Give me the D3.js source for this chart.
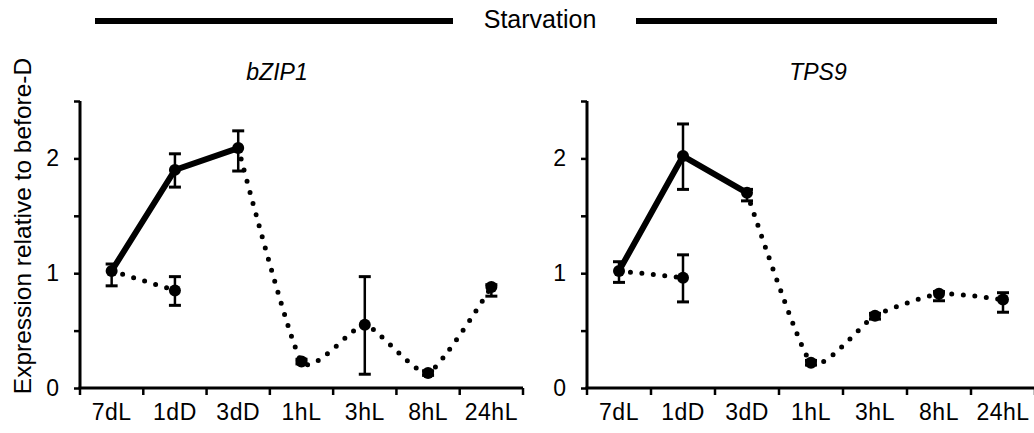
<!DOCTYPE html>
<html>
<head>
<meta charset="utf-8">
<script src="https://cdn.jsdelivr.net/npm/d3@7"></script>
<style>
  html, body { margin: 0; padding: 0; background: #fff; }
  svg { display: block; font-family: "Liberation Sans", Arial, sans-serif; }
</style>
</head>
<body>
<svg id="chart" width="1034" height="433"></svg>
<script>
// Time points
const categories = ["7dL", "1dD", "3dD", "1hL", "3hL", "8hL", "24hL"];
const yTicks = [0, 0.5, 1, 1.5, 2, 2.5];
const yTickLabels = ["0", "", "1", "", "2", ""];

// bZIP1: starvation (solid), light control (dotted), recovery in light (dotted, smoothed)
const bzipStarvCats = ["7dL", "1dD", "3dD"];
const bzipStarv = [1.02, 1.90, 2.09];
const bzipStarvLo = [0.89, 1.75, 1.89];
const bzipStarvHi = [1.08, 2.04, 2.24];
const bzipCtrlCats = ["7dL", "1dD"];
const bzipCtrl = [1.02, 0.85];
const bzipCtrlLo = [1.02, 0.72];
const bzipCtrlHi = [1.02, 0.97];
const bzipRecCats = ["3dD", "1hL", "3hL", "8hL", "24hL"];
const bzipRec = [2.09, 0.23, 0.55, 0.13, 0.88];
const bzipRecLo = [2.09, 0.21, 0.12, 0.11, 0.80];
const bzipRecHi = [2.09, 0.25, 0.97, 0.15, 0.90];

// TPS9
const tpsStarvCats = ["7dL", "1dD", "3dD"];
const tpsStarv = [1.02, 2.02, 1.70];
const tpsStarvLo = [0.92, 1.73, 1.63];
const tpsStarvHi = [1.10, 2.30, 1.73];
const tpsCtrlCats = ["7dL", "1dD"];
const tpsCtrl = [1.02, 0.96];
const tpsCtrlLo = [1.02, 0.75];
const tpsCtrlHi = [1.02, 1.16];
const tpsRecCats = ["3dD", "1hL", "3hL", "8hL", "24hL"];
const tpsRec = [1.70, 0.22, 0.63, 0.82, 0.77];
const tpsRecLo = [1.70, 0.20, 0.60, 0.76, 0.66];
const tpsRecHi = [1.70, 0.24, 0.65, 0.84, 0.83];

const panelTitles = ["bZIP1", "TPS9"];
const headerText = "Starvation";
const yLabel = "Expression relative to before-D";

function series(cats, vals, lo, hi) {
  return cats.map((c, i) => ({ cat: c, v: vals[i], lo: lo[i], hi: hi[i] }));
}

const panels = [
  {
    title: panelTitles[0], x0: 80, x1: 523, titleX: 277,
    starv: series(bzipStarvCats, bzipStarv, bzipStarvLo, bzipStarvHi),
    ctrl: series(bzipCtrlCats, bzipCtrl, bzipCtrlLo, bzipCtrlHi),
    rec: series(bzipRecCats, bzipRec, bzipRecLo, bzipRecHi)
  },
  {
    title: panelTitles[1], x0: 587, x1: 1035, titleX: 818,
    starv: series(tpsStarvCats, tpsStarv, tpsStarvLo, tpsStarvHi),
    ctrl: series(tpsCtrlCats, tpsCtrl, tpsCtrlLo, tpsCtrlHi),
    rec: series(tpsRecCats, tpsRec, tpsRecLo, tpsRecHi)
  }
];

const svg = d3.select("#chart");
const yBottom = 388, yTop = 101;

// Header: "Starvation" with bars on either side
svg.append("line").attr("x1", 95).attr("x2", 453).attr("y1", 21).attr("y2", 21)
  .attr("stroke", "#000").attr("stroke-width", 6);
svg.append("line").attr("x1", 636).attr("x2", 997).attr("y1", 21).attr("y2", 21)
  .attr("stroke", "#000").attr("stroke-width", 6);
svg.append("text").attr("x", 540).attr("y", 28).attr("text-anchor", "middle")
  .attr("font-size", 25).text(headerText);

// Shared y-axis title
svg.append("text")
  .attr("transform", "translate(31,226) rotate(-90)")
  .attr("text-anchor", "middle").attr("font-size", 24.5).text(yLabel);

panels.forEach(p => {
  const x = d3.scaleBand().domain(categories).range([p.x0, p.x1]).padding(0);
  const cx = c => x(c) + x.bandwidth() / 2;
  const y = d3.scaleLinear().domain([0, 2.5]).range([yBottom, yTop]);
  const g = svg.append("g");

  // y axis
  const yAxis = d3.axisLeft(y).tickValues(yTicks)
    .tickFormat((d, i) => yTickLabels[i]).tickSize(6).tickPadding(15);
  const ya = g.append("g").attr("transform", `translate(${p.x0},0)`).call(yAxis);
  ya.select(".domain").attr("stroke-width", 3).attr("d", `M0,${yTop}V${yBottom}`);
  ya.selectAll(".tick line").attr("stroke-width", 2.5);
  ya.selectAll(".tick text").attr("font-size", 23).attr("font-family", "Liberation Sans, Arial, sans-serif");

  // x axis: ticks at category boundaries, labels centered in bands
  const bounds = categories.map(c => x(c)).concat([p.x1]);
  g.append("line").attr("x1", p.x0 - 1.5).attr("x2", p.x1).attr("y1", yBottom).attr("y2", yBottom)
    .attr("stroke", "#000").attr("stroke-width", 3);
  g.selectAll(".xt").data(bounds).join("line")
    .attr("x1", d => d).attr("x2", d => d).attr("y1", yBottom).attr("y2", yBottom + 7)
    .attr("stroke", "#000").attr("stroke-width", 2.5);
  g.selectAll(".xl").data(categories).join("text")
    .attr("x", d => cx(d)).attr("y", 420).attr("text-anchor", "middle")
    .attr("font-size", 23).attr("letter-spacing", 0.5).text(d => d);

  // panel title
  g.append("text").attr("x", p.titleX).attr("y", 80)
    .attr("text-anchor", "middle").attr("font-size", 23).attr("font-style", "italic")
    .text(p.title);

  // lines
  const straight = d3.line().x(d => cx(d.cat)).y(d => y(d.v));
  const smooth = d3.line().x(d => cx(d.cat)).y(d => y(d.v)).curve(d3.curveCardinal.tension(0.45));

  g.append("path").attr("d", straight(p.ctrl)).attr("fill", "none")
    .attr("stroke", "#000").attr("stroke-width", 5).attr("stroke-linecap", "round")
    .attr("stroke-dasharray", "0 11.5");
  g.append("path").attr("d", smooth(p.rec)).attr("fill", "none")
    .attr("stroke", "#000").attr("stroke-width", 5).attr("stroke-linecap", "round")
    .attr("stroke-dasharray", "0 11.5");
  g.append("path").attr("d", straight(p.starv)).attr("fill", "none")
    .attr("stroke", "#000").attr("stroke-width", 6);

  // error bars and markers
  const all = p.starv.concat(p.ctrl.slice(1), p.rec.slice(1));
  const cap = 6;
  all.forEach(d => {
    if (d.hi - d.lo > 0) {
      g.append("line").attr("x1", cx(d.cat)).attr("x2", cx(d.cat))
        .attr("y1", y(d.lo)).attr("y2", y(d.hi)).attr("stroke", "#000").attr("stroke-width", 2.5);
      [d.lo, d.hi].forEach(v => {
        g.append("line").attr("x1", cx(d.cat) - cap).attr("x2", cx(d.cat) + cap)
          .attr("y1", y(v)).attr("y2", y(v)).attr("stroke", "#000").attr("stroke-width", 3);
      });
    }
  });
  g.selectAll(".pt").data(all).join("circle")
    .attr("cx", d => cx(d.cat)).attr("cy", d => y(d.v)).attr("r", 6).attr("fill", "#000");
});
</script>
</body>
</html>
